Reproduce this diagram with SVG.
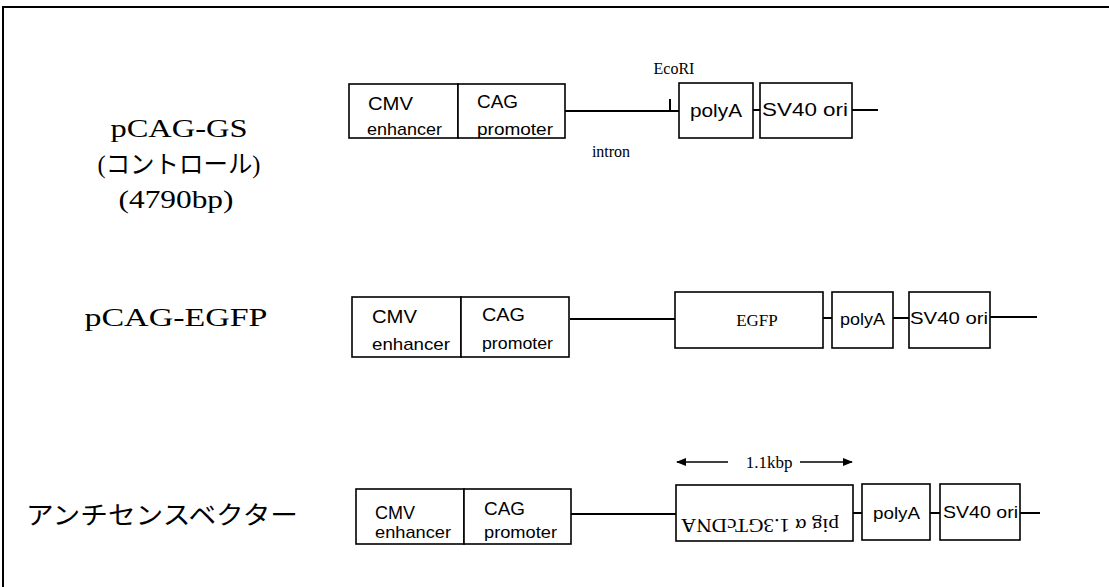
<svg xmlns="http://www.w3.org/2000/svg" width="1109" height="587" viewBox="0 0 1109 587">
<style>
.box{fill:#fff;stroke:#000;stroke-width:1.6}
.ln{stroke:#000;stroke-width:2;fill:none}
.s{font-family:"Liberation Sans",Arial,sans-serif;fill:#000}
.t{font-family:"Liberation Serif","Times New Roman",serif;fill:#000}
.big{font-size:19px}
.sm{font-size:17px}
.lbl{font-family:"Liberation Serif","Noto Sans CJK JP",serif;fill:#000;font-size:25px;text-anchor:middle}
</style>
<defs>
<marker id="ah" markerWidth="10" markerHeight="8" refX="9" refY="4" orient="auto-start-reverse" markerUnits="userSpaceOnUse">
<path d="M0,0 L10,4 L0,8 Z" fill="#000"/>
</marker>
</defs>
<rect width="1109" height="587" fill="#fff"/>
<path class="ln" d="M3,587 V7 H1109"/>

<g id="labels">
<text class="lbl" x="179" y="137" textLength="137" lengthAdjust="spacingAndGlyphs">pCAG-GS</text>
<text class="lbl" x="179" y="173" font-size="23" textLength="163" lengthAdjust="spacingAndGlyphs">(コントロール)</text>
<text class="lbl" x="176" y="208" textLength="115" lengthAdjust="spacingAndGlyphs">(4790bp)</text>
<text class="lbl" x="176" y="326" textLength="183" lengthAdjust="spacingAndGlyphs">pCAG-EGFP</text>
<text class="lbl" x="162" y="524" font-size="23" textLength="272" lengthAdjust="spacingAndGlyphs">アンチセンスベクター</text>
</g>

<g id="connectors">
<path class="ln" d="M565,111 H679"/>
<path class="ln" d="M670,99 V111"/>
<path class="ln" d="M753,110 H760"/>
<path class="ln" d="M852,110 H878"/>
<path class="ln" d="M570,319 H675"/>
<path class="ln" d="M823,318 H832"/>
<path class="ln" d="M893,318 H909"/>
<path class="ln" d="M990,317 H1037"/>
<path class="ln" d="M571,514 H676"/>
<path class="ln" d="M853,513 H862"/>
<path class="ln" d="M930,513 H940"/>
<path class="ln" d="M1020,513 H1040"/>
<path stroke="#000" stroke-width="1.5" d="M728,462 H677" marker-end="url(#ah)"/>
<path stroke="#000" stroke-width="1.5" d="M800,462 H852" marker-end="url(#ah)"/>
</g>

<g id="row1">
<g id="r1-cmv"><rect class="box" x="349" y="84" width="109" height="54"/>
<text class="s big" x="368" y="110" textLength="45" lengthAdjust="spacingAndGlyphs">CMV</text>
<text class="s sm" x="367" y="135" textLength="75" lengthAdjust="spacingAndGlyphs">enhancer</text></g>
<g id="r1-cag"><rect class="box" x="458" y="84" width="107" height="54"/>
<text class="s big" x="477" y="108" textLength="41" lengthAdjust="spacingAndGlyphs">CAG</text>
<text class="s sm" x="477" y="135" textLength="76" lengthAdjust="spacingAndGlyphs">promoter</text></g>
<g id="r1-polya"><rect class="box" x="679" y="83" width="74" height="55"/>
<text class="s" x="690" y="117" font-size="18" textLength="52" lengthAdjust="spacingAndGlyphs">polyA</text></g>
<g id="r1-sv40"><rect class="box" x="760" y="83" width="92" height="55"/>
<text class="s" x="762" y="116" font-size="18" textLength="86" lengthAdjust="spacingAndGlyphs">SV40 ori</text></g>
<text class="t" x="674" y="74" font-size="16" text-anchor="middle">EcoRI</text>
<text class="t" x="611" y="157" font-size="16" text-anchor="middle">intron</text>
</g>

<g id="row2">
<g id="r2-cmv"><rect class="box" x="352" y="297" width="109" height="60"/>
<text class="s big" x="372" y="323" textLength="45" lengthAdjust="spacingAndGlyphs">CMV</text>
<text class="s sm" x="372" y="350" textLength="78" lengthAdjust="spacingAndGlyphs">enhancer</text></g>
<g id="r2-cag"><rect class="box" x="461" y="297" width="108" height="60"/>
<text class="s big" x="482" y="321" textLength="43" lengthAdjust="spacingAndGlyphs">CAG</text>
<text class="s sm" x="482" y="349" textLength="71" lengthAdjust="spacingAndGlyphs">promoter</text></g>
<g id="r2-egfp"><rect class="box" x="675" y="292" width="148" height="56"/>
<text class="t" x="757" y="326" font-size="17" text-anchor="middle">EGFP</text></g>
<g id="r2-polya"><rect class="box" x="832" y="292" width="61" height="56"/>
<text class="s" x="840" y="325" font-size="17" textLength="45" lengthAdjust="spacingAndGlyphs">polyA</text></g>
<g id="r2-sv40"><rect class="box" x="909" y="292" width="81" height="56"/>
<text class="s" x="910" y="324" font-size="17" textLength="78" lengthAdjust="spacingAndGlyphs">SV40 ori</text></g>
</g>

<g id="row3">
<g id="r3-cmv"><rect class="box" x="356" y="489" width="108" height="55"/>
<text class="s big" x="375" y="519" textLength="40" lengthAdjust="spacingAndGlyphs">CMV</text>
<text class="s sm" x="375" y="538" textLength="76" lengthAdjust="spacingAndGlyphs">enhancer</text></g>
<g id="r3-cag"><rect class="box" x="464" y="489" width="107" height="55"/>
<text class="s big" x="484" y="515" textLength="41" lengthAdjust="spacingAndGlyphs">CAG</text>
<text class="s sm" x="484" y="538" textLength="73" lengthAdjust="spacingAndGlyphs">promoter</text></g>
<g id="r3-pig"><rect class="box" x="676" y="485" width="177" height="56"/>
<text class="t" x="768" y="507" font-size="18" text-anchor="middle" textLength="158" lengthAdjust="spacingAndGlyphs" transform="rotate(180 764 513)">pig α 1.3GTcDNA</text></g>
<g id="r3-polya"><rect class="box" x="862" y="484" width="68" height="56"/>
<text class="s" x="873" y="519" font-size="17" textLength="47" lengthAdjust="spacingAndGlyphs">polyA</text></g>
<g id="r3-sv40"><rect class="box" x="940" y="484" width="80" height="56"/>
<text class="s" x="943" y="518" font-size="17" textLength="75" lengthAdjust="spacingAndGlyphs">SV40 ori</text></g>
<text class="t" x="769" y="468" font-size="17" text-anchor="middle">1.1kbp</text>
</g>
</svg>
